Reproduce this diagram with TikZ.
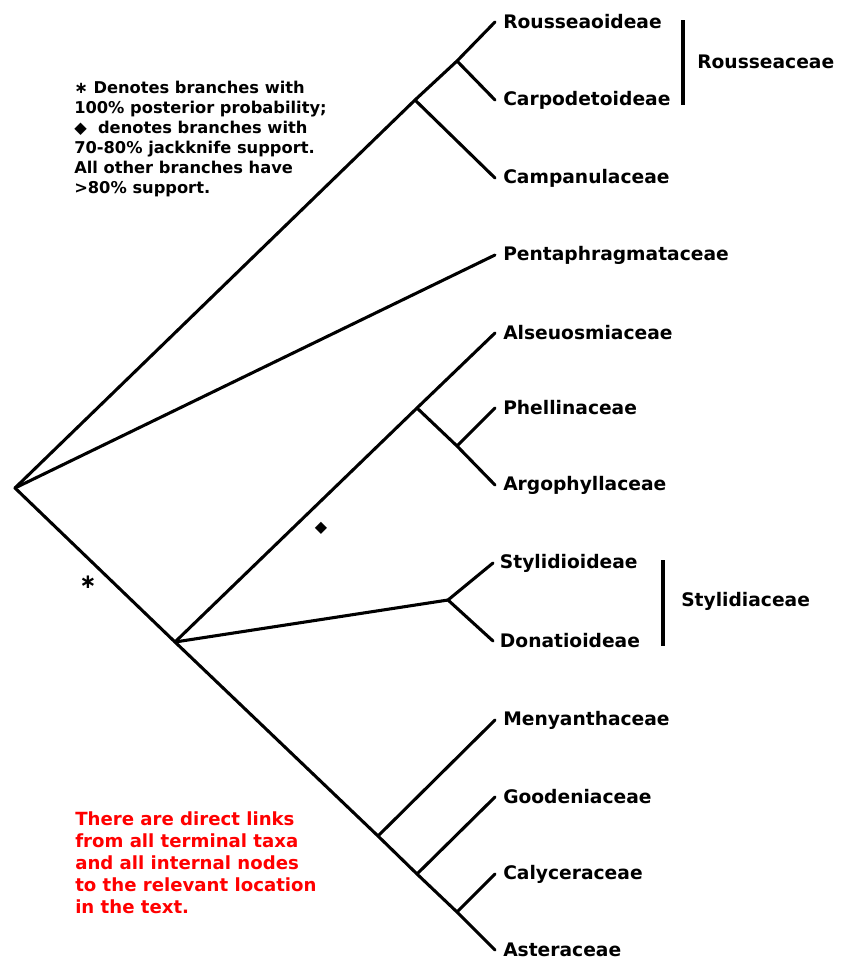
\documentclass[tikz,border=0pt]{standalone}
\usepackage{fontspec}
\setmainfont{DejaVu Sans}
\begin{document}
\begin{tikzpicture}[x=0.75pt,y=-0.75pt,
  br/.style={line width=2.3pt, line cap=round},
  bar/.style={line width=2.3pt},
  lab/.style={anchor=west, inner sep=0pt, font=\bfseries\fontsize{14}{16}\selectfont},
  note/.style={anchor=north west, inner sep=0pt, align=left, font=\bfseries\fontsize{12.2}{15}\selectfont},
  rednote/.style={anchor=north west, inner sep=0pt, align=left, text=red, font=\bfseries\fontsize{13.6}{16.5}\selectfont}]
\useasboundingbox (0,0) rectangle (842,957);
% internal nodes
\coordinate (root) at (15,488);
\coordinate (nCam) at (415,100);
\coordinate (nRou) at (457,61);
\coordinate (nLow) at (175,642);
\coordinate (nAls) at (417,408);
\coordinate (nPhe) at (457,446);
\coordinate (nSty) at (448,600);
\coordinate (nMen) at (378,836);
\coordinate (nGoo) at (417,874);
\coordinate (nCal) at (457,912);
% tips
\coordinate (tRou) at (495,22);
\coordinate (tCar) at (495,100);
\coordinate (tCam) at (495,178);
\coordinate (tPen) at (495,255);
\coordinate (tAls) at (495,333);
\coordinate (tPhe) at (495,408);
\coordinate (tArg) at (495,485);
\coordinate (tSti) at (493,563);
\coordinate (tDon) at (493,641);
\coordinate (tMen) at (495,720);
\coordinate (tGoo) at (495,797);
\coordinate (tCly) at (495,874);
\coordinate (tAst) at (495,950);
% branches
\draw[br] (root) -- (nCam) -- (nRou) -- (tRou);
\draw[br] (nRou) -- (tCar);
\draw[br] (nCam) -- (tCam);
\draw[br] (root) -- (tPen);
\draw[br] (root) -- (nLow) -- (nMen) -- (nGoo) -- (nCal) -- (tAst);
\draw[br] (nMen) -- (tMen);
\draw[br] (nGoo) -- (tGoo);
\draw[br] (nCal) -- (tCly);
\draw[br] (nLow) -- (nAls) -- (tAls);
\draw[br] (nAls) -- (nPhe) -- (tArg);
\draw[br] (nPhe) -- (tPhe);
\draw[br] (nLow) -- (nSty) -- (tSti);
\draw[br] (nSty) -- (tDon);
% labels
\node[lab] (lRou) at ([xshift=6pt]tRou) {Rousseaoideae};
\node[lab] (lCar) at ([xshift=6pt]tCar) {Carpodetoideae};
\node[lab] (lCam) at ([xshift=6pt]tCam) {Campanulaceae};
\node[lab] (lPen) at ([xshift=6pt]tPen) {Pentaphragmataceae};
\node[lab] (lAls) at ([xshift=6pt]tAls) {Alseuosmiaceae};
\node[lab] (lPhe) at ([xshift=6pt]tPhe) {Phellinaceae};
\node[lab] (lArg) at ([xshift=6pt]tArg) {Argophyllaceae};
\node[lab] (lSti) at ([xshift=5pt]tSti) {Stylidioideae};
\node[lab] (lDon) at ([xshift=5pt]tDon) {Donatioideae};
\node[lab] (lMen) at ([xshift=6pt]tMen) {Menyanthaceae};
\node[lab] (lGoo) at ([xshift=6pt]tGoo) {Goodeniaceae};
\node[lab] (lCly) at ([xshift=6pt]tCly) {Calyceraceae};
\node[lab] (lAst) at ([xshift=6pt]tAst) {Asteraceae};
% family bars
\coordinate (bRouT) at (683,20);
\coordinate (bRouB) at (683,105);
\draw[bar] (bRouT) -- (bRouB);
\node[lab] (fRou) at (697,62) {Rousseaceae};
\coordinate (bStyT) at (663,560);
\coordinate (bStyB) at (663,646);
\draw[bar] (bStyT) -- (bStyB);
\node[lab] (fSty) at (681,601) {Stylidiaceae};
% support marks
\node[inner sep=0pt, font=\bfseries\fontsize{15}{15}\selectfont] (star) at (88,582) {∗};
\node[inner sep=0pt, font=\fontsize{12}{12}\selectfont] (diam) at (321,528) {◆};
% notes
\node[note] (legend) at (74,81) {∗ Denotes branches with\\100\% posterior probability;\\◆\ \ denotes branches with\\70-80\% jackknife support.\\All other branches have\\>80\% support.};
\node[rednote] (links) at (75,811) {There are direct links\\from all terminal taxa\\and all internal nodes\\to the relevant location\\in the text.};
\end{tikzpicture}
\end{document}
